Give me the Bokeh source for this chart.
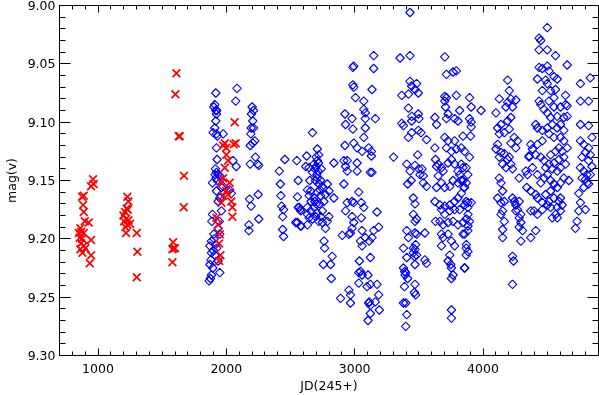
import numpy as np
from bokeh.plotting import figure
from bokeh.models import (Range1d, LinearAxis, SingleIntervalTicker,
                          PrintfTickFormatter, ColumnDataSource)
from bokeh.embed import file_html
from bokeh.resources import INLINE

# ---------------- data (JD-2450000, V magnitude) ----------------
red_season1 = [(961, 9.149), (946, 9.155), (966, 9.153), (889, 9.163), (876, 9.164), (884, 9.171),
               (889, 9.177), (897, 9.185), (928, 9.186), (863, 9.191), (868, 9.194), (889, 9.195),
               (858, 9.199), (876, 9.200), (946, 9.201), (868, 9.204), (889, 9.206), (902, 9.208),
               (863, 9.209), (946, 9.214), (936, 9.221), (851, 9.195), (879, 9.212)]
red_season2 = [(1229, 9.164), (1237, 9.168), (1224, 9.174), (1211, 9.177), (1232, 9.175), (1198, 9.180),
               (1219, 9.183), (1237, 9.184), (1203, 9.185), (1229, 9.188), (1250, 9.187), (1214, 9.190),
               (1219, 9.195), (1302, 9.195), (1307, 9.211), (1302, 9.233)]
red_season3 = [(1611, 9.058), (1603, 9.076), (1629, 9.112), (1637, 9.112), (1670, 9.146), (1668, 9.173),
               (1585, 9.203), (1590, 9.208), (1580, 9.209), (1600, 9.208), (1580, 9.220)]
red_season4 = [(2065, 9.100), (2057, 9.119), (2073, 9.118), (1988, 9.118), (1975, 9.120), (2000, 9.122),
               (2000, 9.128), (2013, 9.133), (1988, 9.139), (1975, 9.148), (1962, 9.152), (2026, 9.152),
               (2000, 9.159), (2013, 9.162), (2039, 9.168), (2047, 9.173), (2047, 9.181), (1975, 9.163),
               (1962, 9.169), (1923, 9.182), (1936, 9.188), (1949, 9.196), (1944, 9.204), (1954, 9.214),
               (1944, 9.219)]

blue_season1 = [(1918, 9.075), (1910, 9.085), (1903, 9.087), (1918, 9.090), (1923, 9.093), (1918, 9.099),
                (1910, 9.105), (1897, 9.109), (1923, 9.110), (1975, 9.110), (1923, 9.122), (1928, 9.132),
                (1923, 9.143), (1936, 9.145), (1949, 9.146), (1892, 9.152), (1962, 9.156), (1975, 9.155),
                (1923, 9.159), (1949, 9.165), (1936, 9.168), (1962, 9.176), (1892, 9.179), (1887, 9.185),
                (1936, 9.191), (1949, 9.196), (1903, 9.196), (1884, 9.202), (1872, 9.206), (1884, 9.212),
                (1910, 9.214), (1872, 9.222), (1884, 9.231), (1866, 9.236), (1876, 9.234), (1949, 9.229),
                (1936, 9.219), (2073, 9.082), (2083, 9.071), (2026, 9.158), (2039, 9.161), (2052, 9.133),
                (2077, 9.138), (1915, 9.140), (1920, 9.148), (1930, 9.150), (1905, 9.200), (1915, 9.205),
                (1925, 9.208), (1898, 9.210), (1880, 9.218), (1895, 9.225), (1925, 9.090), (1930, 9.112),
                (1912, 9.145), (1945, 9.185)]
blue_season2 = [(2201, 9.087), (2212, 9.090), (2196, 9.093), (2206, 9.099), (2194, 9.105), (2212, 9.105),
                (2191, 9.110), (2222, 9.116), (2206, 9.118), (2186, 9.120), (2227, 9.130), (2243, 9.136),
                (2253, 9.137), (2186, 9.136), (2181, 9.166), (2193, 9.172), (2176, 9.188), (2176, 9.193),
                (2248, 9.162), (2253, 9.183)]
blue_season3 = [(2413, 9.142), (2421, 9.153), (2425, 9.163), (2431, 9.172), (2446, 9.175), (2439, 9.181),
                (2439, 9.192), (2446, 9.198), (2456, 9.132), (2549, 9.133), (2560, 9.150), (2554, 9.164),
                (2560, 9.173), (2575, 9.175), (2554, 9.186), (2580, 9.189), (2671, 9.109), (2709, 9.123),
                (2700, 9.130), (2709, 9.133), (2718, 9.135), (2683, 9.136), (2700, 9.138), (2626, 9.129),
                (2619, 9.138), (2645, 9.139), (2671, 9.143), (2709, 9.148), (2735, 9.150), (2722, 9.153),
                (2748, 9.155), (2787, 9.153), (2838, 9.135), (2838, 9.165), (2800, 9.159), (2773, 9.162),
                (2632, 9.158), (2657, 9.159), (2645, 9.163), (2684, 9.165), (2709, 9.160), (2735, 9.163),
                (2568, 9.173), (2580, 9.176), (2632, 9.173), (2657, 9.176), (2684, 9.173), (2709, 9.178),
                (2748, 9.176), (2735, 9.181), (2632, 9.179), (2645, 9.182), (2671, 9.183), (2696, 9.181),
                (2541, 9.186), (2580, 9.189), (2632, 9.188), (2748, 9.186), (2773, 9.191), (2800, 9.181),
                (2787, 9.185), (2761, 9.202), (2766, 9.208), (2825, 9.215), (2756, 9.222), (2812, 9.222),
                (2818, 9.234), (2690, 9.140), (2715, 9.142), (2720, 9.128), (2705, 9.145), (2695, 9.150),
                (2730, 9.158), (2690, 9.168), (2700, 9.170), (2725, 9.170), (2660, 9.168), (2650, 9.150),
                (2740, 9.140), (2760, 9.168), (2720, 9.185)]
blue_season4 = [(2890, 9.251), (2955, 9.244), (2967, 9.248), (2967, 9.255), (2903, 9.197), (2955, 9.196),
                (2967, 9.195), (2916, 9.153), (2929, 9.138), (2916, 9.133), (2942, 9.133), (2924, 9.120),
                (2929, 9.102), (2924, 9.093), (2980, 9.097), (2986, 9.106), (2980, 9.168), (2993, 9.169),
                (2942, 9.169), (2929, 9.176), (2980, 9.181), (2993, 9.186), (2980, 9.191), (2942, 9.142),
                (3019, 9.135), (3019, 9.142), (3032, 9.160), (2993, 9.118), (3019, 9.122), (3058, 9.125),
                (2993, 9.052), (2986, 9.053), (2986, 9.068), (2993, 9.070), (3006, 9.079), (3071, 9.082),
                (3071, 9.089), (3083, 9.092), (3083, 9.097), (3083, 9.105), (3071, 9.113), (3109, 9.122),
                (3130, 9.125), (3052, 9.169), (3071, 9.173), (3052, 9.182), (3058, 9.193), (3045, 9.202),
                (3058, 9.206), (3083, 9.199), (3114, 9.202), (3037, 9.219), (3045, 9.228), (3032, 9.229),
                (3058, 9.231), (3032, 9.238), (3122, 9.216), (3104, 9.231), (3122, 9.239), (3096, 9.241),
                (3114, 9.254), (3109, 9.255), (3122, 9.257), (3104, 9.270), (3122, 9.264), (3135, 9.072),
                (3148, 9.054), (3148, 9.043), (3135, 9.143), (3122, 9.143), (3130, 9.129), (3161, 9.097),
                (3174, 9.177), (3187, 9.190), (3148, 9.193), (3135, 9.199), (3187, 9.248), (3174, 9.239),
                (3192, 9.261), (3161, 9.254), (3303, 9.130)]
blue_season5 = [(3354, 9.045), (3431, 9.043), (3431, 9.006), (3367, 9.077), (3419, 9.076), (3431, 9.065),
                (3444, 9.069), (3483, 9.067), (3496, 9.075), (3470, 9.072), (3419, 9.088), (3367, 9.101),
                (3380, 9.103), (3444, 9.099), (3496, 9.093), (3501, 9.097), (3419, 9.113), (3444, 9.109),
                (3496, 9.107), (3517, 9.109), (3560, 9.115), (3406, 9.136), (3431, 9.142), (3470, 9.137),
                (3491, 9.128), (3509, 9.145), (3535, 9.146), (3560, 9.155), (3535, 9.152), (3413, 9.153),
                (3457, 9.165), (3470, 9.170), (3457, 9.179), (3483, 9.183), (3470, 9.185), (3406, 9.193),
                (3419, 9.199), (3470, 9.195), (3483, 9.196), (3547, 9.195), (3457, 9.208), (3470, 9.209),
                (3483, 9.214), (3457, 9.212), (3406, 9.216), (3470, 9.222), (3547, 9.218), (3560, 9.221),
                (3380, 9.225), (3398, 9.229), (3393, 9.231), (3413, 9.234), (3388, 9.241), (3470, 9.239),
                (3465, 9.246), (3475, 9.248), (3380, 9.255), (3398, 9.255), (3406, 9.265), (3398, 9.275),
                (3440, 9.150), (3500, 9.140), (3475, 9.205), (3465, 9.215), (3390, 9.228), (3525, 9.140),
                (3445, 9.095), (3380, 9.208)]
blue_season6 = [(3702, 9.044), (3715, 9.059), (3767, 9.057), (3792, 9.056), (3625, 9.096), (3638, 9.102),
                (3702, 9.078), (3715, 9.079), (3702, 9.082), (3708, 9.087), (3728, 9.093), (3715, 9.097),
                (3792, 9.077), (3818, 9.090), (3779, 9.097), (3805, 9.099), (3895, 9.079), (3908, 9.087),
                (3895, 9.097), (3908, 9.100), (3908, 9.104), (3903, 9.112), (3895, 9.130), (3702, 9.113),
                (3728, 9.116), (3715, 9.122), (3779, 9.116), (3792, 9.123), (3754, 9.125), (3831, 9.122),
                (3844, 9.112), (3625, 9.122), (3630, 9.132), (3651, 9.136), (3638, 9.138), (3676, 9.139),
                (3689, 9.142), (3728, 9.135), (3754, 9.132), (3779, 9.136), (3805, 9.142), (3831, 9.136),
                (3844, 9.139), (3818, 9.145), (3651, 9.146), (3676, 9.152), (3638, 9.156), (3702, 9.156),
                (3741, 9.155), (3767, 9.150), (3805, 9.152), (3831, 9.150), (3870, 9.152), (3852, 9.156),
                (3831, 9.161), (3805, 9.165), (3779, 9.168), (3741, 9.171), (3702, 9.172), (3676, 9.175),
                (3664, 9.171), (3702, 9.179), (3741, 9.176), (3779, 9.175), (3818, 9.175), (3857, 9.171),
                (3883, 9.169), (3908, 9.169), (3883, 9.179), (3870, 9.183), (3844, 9.186), (3883, 9.189),
                (3805, 9.188), (3767, 9.185), (3728, 9.186), (3689, 9.188), (3664, 9.185), (3676, 9.196),
                (3689, 9.199), (3728, 9.196), (3754, 9.202), (3779, 9.206), (3676, 9.206), (3741, 9.214),
                (3749, 9.222), (3754, 9.225), (3767, 9.231), (3754, 9.234), (3728, 9.219), (3857, 9.196),
                (3870, 9.205), (3883, 9.211), (3857, 9.225), (3625, 9.168), (3630, 9.185), (3754, 9.261),
                (3754, 9.268), (3985, 9.090), (3856, 9.125), (3869, 9.139), (3882, 9.145), (3856, 9.156),
                (3869, 9.168), (3882, 9.173), (3895, 9.185), (3882, 9.193), (3869, 9.208), (3856, 9.225),
                (3869, 9.214), (3844, 9.196), (3844, 9.150)]
blue_season7 = [(4192, 9.064), (4205, 9.073), (4217, 9.080), (4192, 9.083), (4230, 9.087), (4256, 9.081),
                (4179, 9.087), (4127, 9.080), (4101, 9.092), (4114, 9.105), (4140, 9.102), (4127, 9.110),
                (4166, 9.109), (4192, 9.099), (4205, 9.106), (4217, 9.096), (4243, 9.113), (4269, 9.116),
                (4256, 9.122), (4217, 9.118), (4114, 9.119), (4101, 9.123), (4140, 9.126), (4127, 9.130),
                (4166, 9.127), (4192, 9.132), (4153, 9.136), (4179, 9.139), (4217, 9.136), (4205, 9.130),
                (4230, 9.140), (4282, 9.148), (4127, 9.148), (4140, 9.152), (4153, 9.159), (4114, 9.165),
                (4140, 9.169), (4166, 9.168), (4153, 9.176), (4140, 9.179), (4166, 9.185), (4153, 9.192),
                (4153, 9.199), (4230, 9.165), (4243, 9.168), (4256, 9.171), (4282, 9.168), (4269, 9.175),
                (4295, 9.179), (4256, 9.176), (4282, 9.182), (4295, 9.186), (4282, 9.190), (4308, 9.193),
                (4295, 9.202), (4230, 9.215), (4238, 9.219), (4230, 9.239)]
blue_season8 = [(4501, 9.019), (4437, 9.028), (4450, 9.030), (4437, 9.038), (4501, 9.038), (4565, 9.043),
                (4656, 9.051), (4437, 9.053), (4462, 9.054), (4501, 9.052), (4514, 9.056), (4424, 9.063),
                (4488, 9.064), (4553, 9.061), (4578, 9.063), (4501, 9.067), (4565, 9.072), (4527, 9.073),
                (4462, 9.073), (4437, 9.082), (4450, 9.085), (4514, 9.082), (4553, 9.079), (4643, 9.077),
                (4643, 9.085), (4656, 9.086), (4604, 9.087), (4553, 9.087), (4475, 9.089), (4501, 9.092),
                (4527, 9.096), (4578, 9.095), (4630, 9.096), (4656, 9.095), (4411, 9.102), (4424, 9.105),
                (4462, 9.107), (4501, 9.105), (4540, 9.102), (4578, 9.105), (4604, 9.102), (4630, 9.107),
                (4514, 9.110), (4553, 9.113), (4604, 9.113), (4630, 9.116), (4462, 9.116), (4424, 9.119),
                (4372, 9.119), (4385, 9.123), (4359, 9.129), (4411, 9.128), (4450, 9.130), (4476, 9.133),
                (4527, 9.128), (4566, 9.125), (4592, 9.122), (4617, 9.125), (4656, 9.122), (4630, 9.130),
                (4592, 9.132), (4553, 9.135), (4514, 9.136), (4488, 9.139), (4540, 9.140), (4579, 9.142),
                (4604, 9.139), (4643, 9.136), (4669, 9.150), (4385, 9.139), (4424, 9.145), (4450, 9.152),
                (4476, 9.148), (4501, 9.145), (4527, 9.150), (4553, 9.153), (4579, 9.156), (4604, 9.152),
                (4630, 9.148), (4527, 9.159), (4488, 9.162), (4514, 9.168), (4553, 9.165), (4592, 9.168),
                (4604, 9.165), (4579, 9.173), (4527, 9.173), (4566, 9.179), (4604, 9.176), (4617, 9.171),
                (4540, 9.182), (4579, 9.182), (4501, 9.171), (4463, 9.169), (4424, 9.165), (4398, 9.176),
                (4424, 9.179), (4463, 9.175), (4347, 9.145), (4341, 9.156), (4334, 9.142), (4372, 9.159),
                (4411, 9.162), (4372, 9.176), (4411, 9.193), (4372, 9.199), (4359, 9.130)]
blue_season9 = [(4836, 9.062), (4759, 9.067), (4759, 9.082), (4823, 9.082), (4759, 9.102), (4823, 9.103),
                (4849, 9.113), (4759, 9.116), (4785, 9.119), (4823, 9.122), (4798, 9.126), (4772, 9.130),
                (4836, 9.128), (4823, 9.133), (4759, 9.139), (4785, 9.142), (4849, 9.138), (4810, 9.145),
                (4798, 9.149), (4823, 9.153), (4785, 9.156), (4810, 9.152), (4772, 9.148), (4746, 9.161),
                (4759, 9.169), (4746, 9.176), (4798, 9.175), (4733, 9.185), (4720, 9.191), (4836, 9.145)]

red_points = red_season1 + red_season2 + red_season3 + red_season4
blue_points = (blue_season1 + blue_season2 + blue_season3 + blue_season4 + blue_season5 +
               blue_season6 + blue_season7 + blue_season8 + blue_season9)

red_src = ColumnDataSource(dict(jd=[a for a, b in red_points], mag=[b for a, b in red_points]))
blue_src = ColumnDataSource(dict(jd=[a for a, b in blue_points], mag=[b for a, b in blue_points]))

FONT = "DejaVu Sans"
FS = "12.5px"

p = figure(width=599, height=395, x_range=Range1d(700, 4900), y_range=Range1d(9.30, 9.00),
           output_backend="svg", toolbar_location=None, x_axis_location=None, y_axis_location=None,
           min_border_left=56, min_border_right=1, min_border_top=5, min_border_bottom=0)
p.styles = {"position": "fixed", "left": "0px", "top": "0px"}
p.grid.visible = False
p.outline_line_color = "black"
p.outline_line_width = 1
p.background_fill_color = "white"
p.border_fill_color = "white"


def make_axis(kind, labelled, label=None):
    if kind == "x":
        ax = LinearAxis(ticker=SingleIntervalTicker(interval=1000, num_minor_ticks=10))
        ax.major_tick_in, ax.minor_tick_in = 7, 4
    else:
        ax = LinearAxis(ticker=SingleIntervalTicker(interval=0.05, num_minor_ticks=5),
                        formatter=PrintfTickFormatter(format="%.2f"))
        ax.major_tick_in, ax.minor_tick_in = 11, 6
    ax.major_tick_out = 0
    ax.minor_tick_out = 0
    ax.axis_line_color = "black"
    ax.major_tick_line_color = "black"
    ax.minor_tick_line_color = "black"
    if labelled:
        ax.major_label_text_font = FONT
        ax.major_label_text_font_size = FS
        ax.major_label_text_color = "black"
        ax.axis_label = label
        ax.axis_label_text_font = FONT
        ax.axis_label_text_font_size = FS
        ax.axis_label_text_font_style = "normal"
        ax.axis_label_text_color = "black"
    else:
        ax.major_label_text_color = None
        ax.major_label_standoff = 0
    return ax


xb = make_axis("x", True, "JD(245+)")
xb.major_label_standoff = 8
xb.axis_label_standoff = 2
yl = make_axis("y", True, "mag(v)")
yl.major_label_standoff = 4
yl.axis_label_standoff = 6
p.add_layout(xb, "below")
p.add_layout(yl, "left")
p.add_layout(make_axis("x", False), "above")
p.add_layout(make_axis("y", False), "right")

p.scatter("jd", "mag", source=blue_src, marker="square", angle=np.pi / 4, size=6,
          fill_color=None, line_color="#0000ff", line_width=1.1)
p.scatter("jd", "mag", source=red_src, marker="x", size=11,
          line_color="#ff0000", line_width=1.7)

open("out.html", "w").write(file_html(p, INLINE))
